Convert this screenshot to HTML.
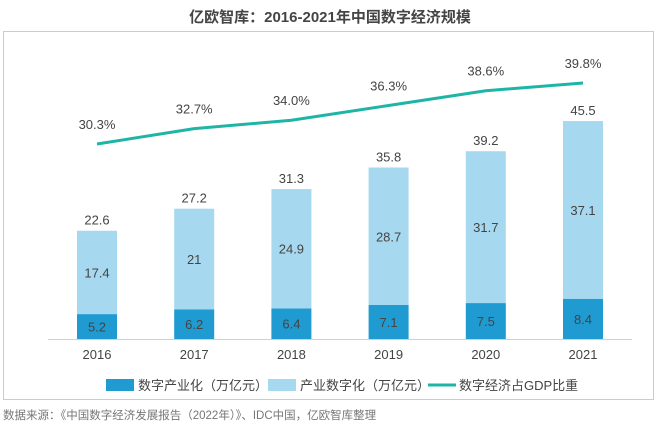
<!DOCTYPE html>
<html><head><meta charset="utf-8"><style>
body{margin:0;background:#fff;font-family:"Liberation Sans","Noto Sans CJK SC",sans-serif;}
</style></head><body>
<svg width="660" height="432" style="display:block">
<text x="330" y="22" text-anchor="middle" font-size="15" font-weight="bold" fill="#444">亿欧智库：2016-2021年中国数字经济规模</text>
<rect x="3.5" y="31.5" width="650" height="368" fill="none" stroke="#999" stroke-dasharray="1,1"/>
<line x1="48" y1="339.5" x2="632" y2="339.5" stroke="#d0d0d0"/>
<g id="bars"></g>
<g id="line"></g>
<g font-size="13" fill="#444">
<rect x="106" y="379" width="28" height="12" fill="#1f9bd1"/>
<text x="138" y="390">数字产业化（万亿元）</text>
<rect x="268" y="379" width="28" height="12" fill="#a6d8ef"/>
<text x="300" y="390">产业数字化（万亿元）</text>
<line x1="428" y1="385" x2="456" y2="385" stroke="#1eb5a6" stroke-width="3"/>
<text x="459" y="390">数字经济占GDP比重</text>
</g>
<text x="3" y="419" font-size="11.5" fill="#777">数据来源：《中国数字经济发展报告（2022年）》、IDC中国，亿欧智库整理</text>
</svg>
<script>
const years=["2016","2017","2018","2019","2020","2021"];
const industry=[5.2,6.2,6.4,7.1,7.5,8.4];
const digitization=[17.4,21,24.9,28.7,31.7,37.1];
const totals=["22.6","27.2","31.3","35.8","39.2","45.5"];
const gdpShare=[30.3,32.7,34.0,36.3,38.6,39.8];
const NS="http://www.w3.org/2000/svg";
const xC=i=>97+i*97.2, yV=v=>339-v*4.79, yP=p=>144-(p-30.3)*6.42, W=40;
function mk(t,a,txt){const e=document.createElementNS(NS,t);for(const k in a)e.setAttribute(k,a[k]);if(txt!=null)e.textContent=txt;return e;}
const bars=document.getElementById('bars');
years.forEach((y,i)=>{
 const x=xC(i);const a=industry[i],b=digitization[i];
 let r=mk('rect',{x:x-W/2,y:yV(a),width:W,height:a*4.79,fill:'#1f9bd1'});
 
 bars.appendChild(r);
 r=mk('rect',{x:x-W/2,y:yV(a+b),width:W,height:b*4.79,fill:'#a6d8ef'});
 
 bars.appendChild(r);
 let t=mk('text',{x:x,y:yV(a/2)+5,'text-anchor':'middle','font-size':13,fill:'#444'},String(a));
 
 bars.appendChild(t);
 t=mk('text',{x:x,y:yV(a+b/2)+5,'text-anchor':'middle','font-size':13,fill:'#444'},String(b));
 
 bars.appendChild(t);
 t=mk('text',{x:x,y:yV(a+b)-6,'text-anchor':'middle','font-size':13,fill:'#444'},totals[i]);
 
 bars.appendChild(t);
 t=mk('text',{x:x,y:359,'text-anchor':'middle','font-size':13,fill:'#444'},y);
 
 bars.appendChild(t);
});
const lg=document.getElementById('line');
const pl=mk('polyline',{points:gdpShare.map((p,i)=>xC(i)+','+yP(p)).join(' '),fill:'none',stroke:'#1eb5a6','stroke-width':3,'stroke-linejoin':'round'});

lg.appendChild(pl);
gdpShare.forEach((p,i)=>{
 const t=mk('text',{x:xC(i),y:yP(p)-15,'text-anchor':'middle','font-size':13,fill:'#444'},p.toFixed(1)+'%');
 
 lg.appendChild(t);
});
</script>
</body></html>
